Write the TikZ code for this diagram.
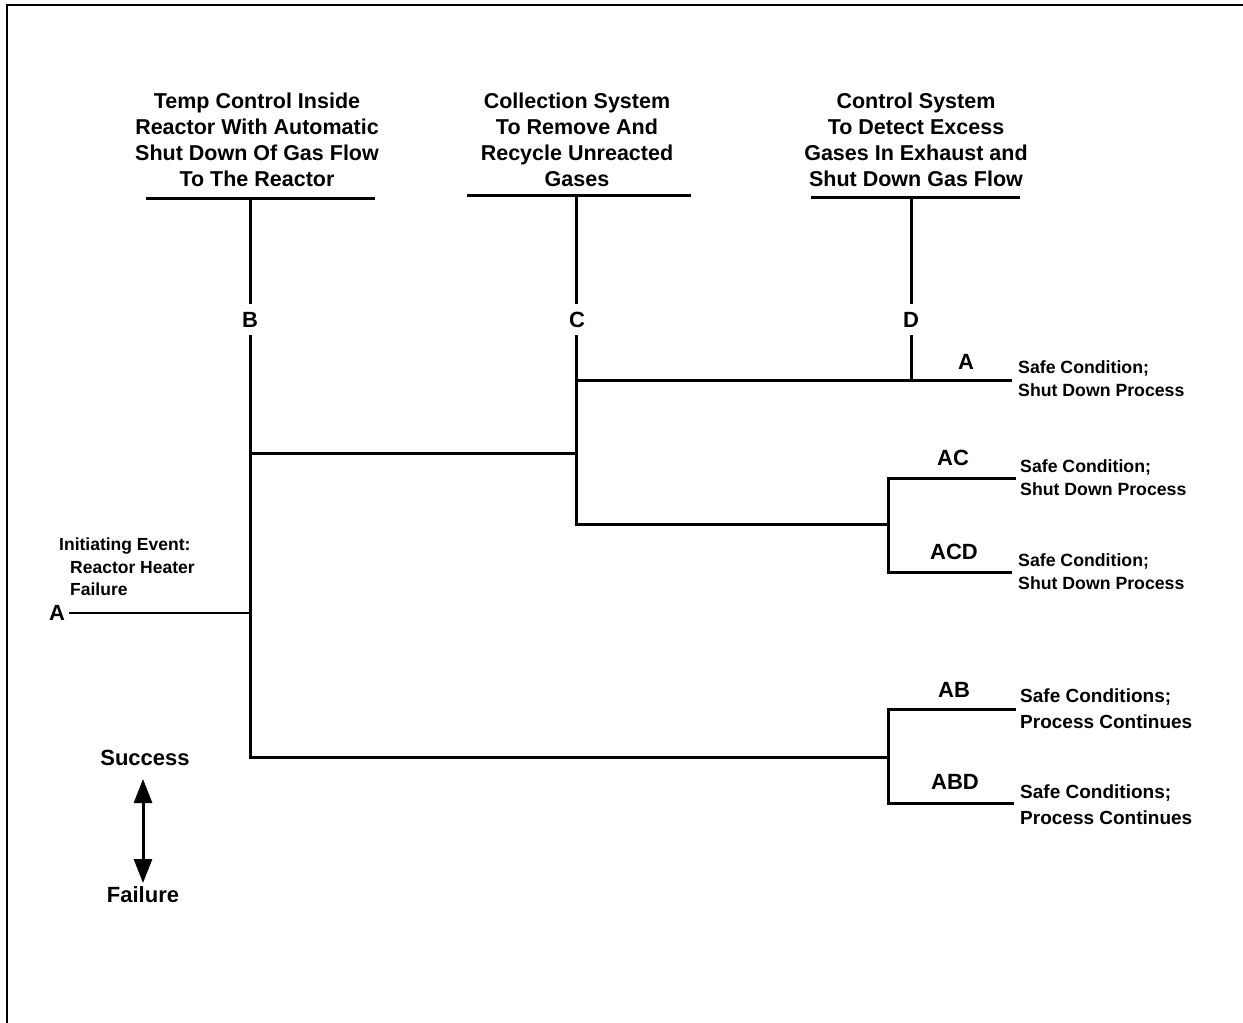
\documentclass[tikz,border=0pt]{standalone}
\usepackage{fontspec}
\setmainfont{Liberation Sans}
\usetikzlibrary{arrows.meta}
\tikzset{
  hdr/.style={font=\bfseries\fontsize{21.5}{26}\selectfont, align=center, inner sep=0pt, anchor=north},
  sym/.style={font=\bfseries\fontsize{22}{25}\selectfont, inner sep=0pt},
  cut/.style={font=\bfseries\fontsize{22}{25}\selectfont, inner sep=0pt, minimum height=32pt},
  outA/.style={font=\bfseries\fontsize{17.7}{23}\selectfont, align=left, inner sep=0pt, anchor=north west},
  outB/.style={font=\bfseries\fontsize{19}{25.5}\selectfont, align=left, inner sep=0pt, anchor=north west},
  branch/.style={line width=3pt, line cap=rect},
  frame/.style={line width=2pt},
}
\begin{document}
\begin{tikzpicture}[x=1pt,y=-1pt]
\useasboundingbox (0,0) rectangle (1243,1023);
% frame
\coordinate (f1) at (7,1023);
\coordinate (f2) at (7,5);
\coordinate (f3) at (1243,5);
\draw[frame] (f1) -- (f2) -- (f3);

% headers
\node[hdr] (hB) at (257,93) {Temp Control Inside\\Reactor With Automatic\\Shut Down Of Gas Flow\\To The Reactor};
\node[hdr] (hC) at (577,93) {Collection System\\To Remove And\\Recycle Unreacted\\Gases};
\node[hdr] (hD) at (916,93) {Control System\\To Detect Excess\\Gases In Exhaust and\\Shut Down Gas Flow};

% underlines
\coordinate (uB1) at (146,198); \coordinate (uB2) at (375,198); \coordinate (tB) at (250,198);
\coordinate (uC1) at (467,195); \coordinate (uC2) at (691,195); \coordinate (tC) at (576,195);
\coordinate (uD1) at (811,197); \coordinate (uD2) at (1020,197); \coordinate (tD) at (911,197);
\draw[branch,line cap=butt] (uB1) -- (uB2);
\draw[branch,line cap=butt] (uC1) -- (uC2);
\draw[branch,line cap=butt] (uD1) -- (uD2);

% event letters
\node[cut] (lB) at (250,320) {B};
\node[cut] (lC) at (577,320) {C};
\node[cut] (lD) at (911,320) {D};
\draw[branch,line cap=butt] (tB) -- (lB.north -| tB);
\draw[branch,line cap=butt] (tC) -- (lC.north -| tC);
\draw[branch,line cap=butt] (tD) -- (lD.north -| tD);

% junction coordinates
\coordinate (bB) at (250,757);
\coordinate (jB) at (250,453);
\coordinate (jC) at (576,453);
\coordinate (cTop) at (576,380);
\coordinate (cBot) at (576,524);
\coordinate (dBot) at (911,380);
\coordinate (eA) at (1010,380);
\coordinate (kAC) at (888,524);
\coordinate (kAC1) at (888,478);
\coordinate (kAC2) at (888,572);
\coordinate (eAC) at (1014,478);
\coordinate (eACD) at (1010,572);
\coordinate (kAB) at (888,757);
\coordinate (kAB1) at (888,709);
\coordinate (kAB2) at (888,803);
\coordinate (eAB) at (1014,709);
\coordinate (eABD) at (1012,803);

% initiating event
\node[sym] (A0) at (57,613) {A};
\draw[line width=2.5pt] (A0.east) ++(4pt,0) coordinate (iA) -- (iA -| bB);

% tree lines
\draw[branch] (lB.south -| bB) -- (bB) -- (kAB);
\draw[branch] (jB) -- (jC);
\draw[branch] (lC.south -| cBot) -- (cBot) -- (kAC);
\draw[branch] (cTop) -- (eA);
\draw[branch] (lD.south -| dBot) -- (dBot);
\draw[branch] (eAC) -- (kAC1) -- (kAC2) -- (eACD);
\draw[branch] (eAB) -- (kAB1) -- (kAB2) -- (eABD);

% outcome sequence labels
\node[sym] (sA) at (966,362) {A};
\node[sym] (sAC) at (953,458) {AC};
\node[sym] (sACD) at (954,552) {ACD};
\node[sym] (sAB) at (954,690) {AB};
\node[sym] (sABD) at (955,782) {ABD};

% outcome texts
\node[outA] (oA) at (1018,360) {Safe Condition;\\Shut Down Process};
\node[outA] (oAC) at (1020,459) {Safe Condition;\\Shut Down Process};
\node[outA] (oACD) at (1018,553) {Safe Condition;\\Shut Down Process};
\node[outB] (oAB) at (1020,689) {Safe Conditions;\\Process Continues};
\node[outB] (oABD) at (1020,785) {Safe Conditions;\\Process Continues};

% initiating event text
\node[font=\bfseries\fontsize{17.5}{22.5}\selectfont, align=left, inner sep=0pt, anchor=north west] (ie) at (59,538) {Initiating Event:\\\hspace*{11pt}Reactor Heater\\\hspace*{11pt}Failure};

% legend
\node[sym] (succ) at (145,758) {Success};
\node[sym] (fail) at (143,895) {Failure};
\coordinate (ar1) at (143,779);
\coordinate (ar2) at (143,883);
\draw[line width=3pt, {Triangle[width=18pt,length=24pt]}-{Triangle[width=18pt,length=24pt]}] (ar1) -- (ar2);
\end{tikzpicture}
\end{document}
